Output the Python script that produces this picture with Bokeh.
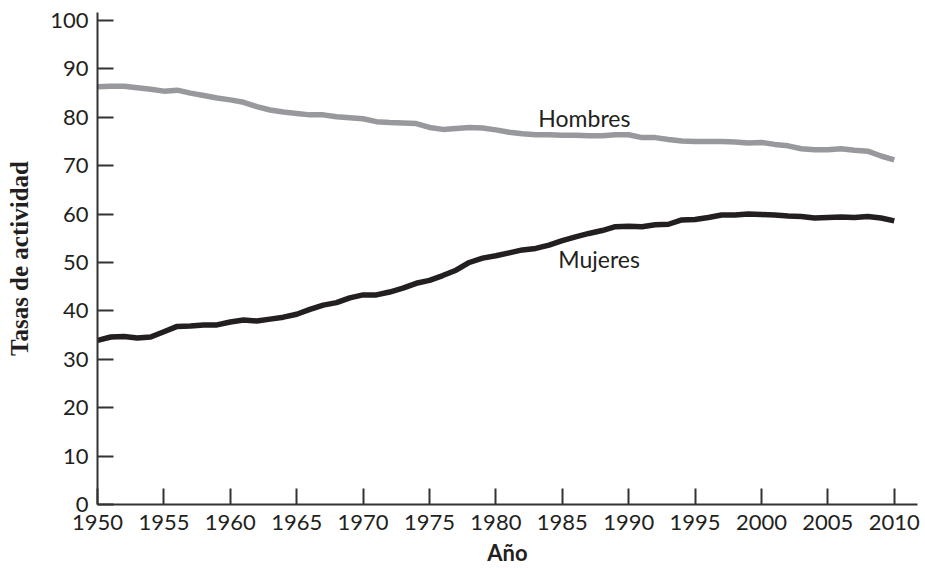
from bokeh.plotting import figure
from bokeh.models import ColumnDataSource, FixedTicker, Range1d, Label
from bokeh.embed import file_html
from bokeh.resources import INLINE

years = list(range(1950, 2011))
hombres = [86.3, 86.4, 86.4, 86.1, 85.8, 85.4, 85.6, 85.0, 84.5, 84.0,
           83.6, 83.1, 82.2, 81.5, 81.1, 80.8, 80.5, 80.5, 80.1, 79.9,
           79.7, 79.1, 78.9, 78.8, 78.7, 77.9, 77.5, 77.7, 77.9, 77.8,
           77.4, 76.9, 76.6, 76.4, 76.4, 76.3, 76.3, 76.2, 76.2, 76.4,
           76.4, 75.8, 75.8, 75.4, 75.1, 75.0, 75.0, 75.0, 74.9, 74.7,
           74.8, 74.4, 74.1, 73.5, 73.3, 73.3, 73.5, 73.2, 73.0, 72.0,
           71.2]
mujeres = [33.9, 34.6, 34.7, 34.4, 34.6, 35.7, 36.8, 36.9, 37.1, 37.1,
           37.7, 38.1, 37.9, 38.3, 38.7, 39.3, 40.3, 41.2, 41.7, 42.7,
           43.3, 43.3, 43.9, 44.7, 45.7, 46.3, 47.3, 48.4, 50.0, 50.9,
           51.4, 52.0, 52.6, 52.9, 53.6, 54.5, 55.3, 56.0, 56.6, 57.4,
           57.5, 57.4, 57.8, 57.9, 58.8, 58.9, 59.3, 59.8, 59.8, 60.0,
           59.9, 59.8, 59.6, 59.5, 59.2, 59.3, 59.4, 59.3, 59.5, 59.2,
           58.6]
x_ticks = list(range(1950, 2011, 5))
y_ticks = list(range(0, 101, 10))

src = ColumnDataSource(dict(year=years, h=hombres, m=mujeres))

p = figure(width=925, height=568, output_backend="svg", toolbar_location=None,
           x_range=Range1d(1950, 2011.75), y_range=Range1d(0, 101.65),
           min_border_left=97, min_border_right=8, min_border_top=12,
           min_border_bottom=62)
p.outline_line_color = None
p.grid.visible = False
p.background_fill_color = "white"

p.line("year", "h", source=src, line_color="#98999d", line_width=5.5, line_join="round")
p.line("year", "m", source=src, line_color="#231f20", line_width=5.5, line_join="round")

tick_font = "Lato"
for ax in (p.xaxis[0], p.yaxis[0]):
    ax.axis_line_color = "#333333"
    ax.axis_line_width = 2
    ax.major_tick_line_color = "#333333"
    ax.major_tick_line_width = 2
    ax.major_tick_in = 16
    ax.major_tick_out = 0
    ax.minor_tick_line_color = None
    ax.major_label_text_font = tick_font
    ax.major_label_text_font_size = "22px"
    ax.major_label_text_color = "#231f20"

p.xaxis.major_label_standoff = 10
p.yaxis.major_label_standoff = 9

p.xaxis.ticker = FixedTicker(ticks=x_ticks)
p.yaxis.ticker = FixedTicker(ticks=y_ticks)

p.xaxis.axis_label = "Año"
p.xaxis.axis_label_text_font = "Lato"
p.xaxis.axis_label_text_font_style = "bold"
p.xaxis.axis_label_text_font_size = "22px"
p.xaxis.axis_label_text_color = "#231f20"
p.xaxis.axis_label_standoff = 6

p.yaxis.axis_label = "Tasas de actividad"
p.yaxis.axis_label_text_font = "Liberation Serif"
p.yaxis.axis_label_text_font_style = "bold"
p.yaxis.axis_label_text_font_size = "25px"
p.yaxis.axis_label_text_color = "#231f20"
p.yaxis.axis_label_standoff = 14

p.add_layout(Label(x=1983.2, y=79.8, text="Hombres", text_font=tick_font,
                   text_font_size="23px", text_color="#231f20",
                   text_baseline="middle", text_align="left"))
p.add_layout(Label(x=1984.7, y=50.8, text="Mujeres", text_font=tick_font,
                   text_font_size="23px", text_color="#231f20",
                   text_baseline="middle", text_align="left"))

open("out.html", "w").write(file_html(p, INLINE))
